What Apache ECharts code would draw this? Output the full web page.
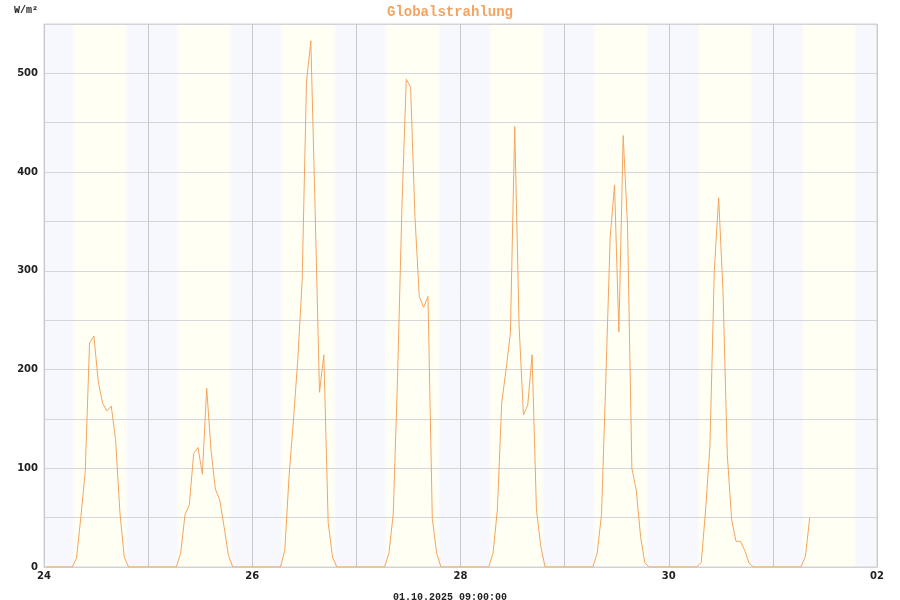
<!DOCTYPE html>
<html>
<head>
<meta charset="utf-8">
<script src="https://cdn.jsdelivr.net/npm/echarts@6/dist/echarts.min.js"></script>
<style>html,body{margin:0;padding:0;background:#fff}#c{width:900px;height:600px}</style>
</head>
<body>
<div id="c"></div>
<script>
// Hourly global radiation (W/m²), one array per day, hours 00..23
const day24 = [0,0,0,0,0,0,0,9,51,96,227,234,188,166,158,163,129,55,10,0,0,0,0,0];
const day25 = [0,0,0,0,0,0,0,14,53,63,115,121,94,181,118,79,68,41,12,0,0,0,0,0];
const day26 = [0,0,0,0,0,0,0,17,93,149,210,290,491,533,360,177,215,45,10,0,0,0,0,0];
const day27 = [0,0,0,0,0,0,0,14,54,193,365,494,486,355,274,263,274,49,14,0,0,0,0,0];
const day28 = [0,0,0,0,0,0,0,14,58,166,200,237,446,245,154,164,215,58,21,0,0,0,0,0];
const day29 = [0,0,0,0,0,0,0,14,53,190,334,387,238,437,345,100,78,31,4,0,0,0,0,0];
const day30 = [0,0,0,0,0,0,0,5,58,123,300,374,280,113,48,26,26,17,4,0,0,0,0,0];
const day01 = [0,0,0,0,0,0,0,11,50];

const dayLabels = ['24','25','26','27','28','29','30','01','02'];
const sunrise = [6.8,6.8,6.8,6.8,6.8,6.8,6.9,6.9];   // hour of day
const sunset  = [19.0,19.0,19.0,19.0,19.0,19.0,19.0,19.0];
const yTickLabels = [0,100,200,300,400,500];

const values = [].concat(day24, day25, day26, day27, day28, day29, day30, day01);
const seriesData = values.map((v, i) => [i + 0.5, v]);

const NIGHT = '#f7f8fe', DAY = '#fffff4';
const fade = 0.4;
const bandAreas = [[{ xAxis: 0, itemStyle: { color: NIGHT, opacity: 1 } }, { xAxis: dayLabels.length * 24 - 24 }]];
sunrise.forEach((sr, d) => {
  const a = d * 24 + sr - fade, b = d * 24 + sunset[d] + fade;
  const f = fade * 2 / (b - a);
  bandAreas.push([{
    xAxis: a,
    itemStyle: { opacity: 1, color: new echarts.graphic.LinearGradient(0, 0, 1, 0, [
      { offset: 0, color: NIGHT }, { offset: f, color: DAY },
      { offset: 1 - f, color: DAY }, { offset: 1, color: NIGHT }]) }
  }, { xAxis: b }]);
});

const chart = echarts.init(document.getElementById('c'), null, { renderer: 'canvas' });
chart.setOption({
  animation: false,
  backgroundColor: '#ffffff',
  title: [{
    text: 'Globalstrahlung', left: 'center', top: 0,
    textStyle: { fontFamily: 'Liberation Mono', fontWeight: 'bold', fontSize: 14, color: '#f4a460' }
  }, {
    text: '01.10.2025 09:00:00', left: 'center', top: 587,
    textStyle: { fontFamily: 'Liberation Mono', fontWeight: 'bold', fontSize: 10, color: '#222' }
  }, {
    text: 'W/m²', left: 9, top: 0,
    textStyle: { fontFamily: 'Liberation Mono', fontWeight: 'bold', fontSize: 10, color: '#222' }
  }],
  grid: {
    left: 44, right: 23, top: 24, bottom: 33, show: true, z: 4,
    backgroundColor: 'transparent', borderColor: '#d2d2d6', borderWidth: 1
  },
  xAxis: {
    type: 'value', min: 0, max: 192, interval: 24, z: 4,
    axisLine: { show: true, lineStyle: { color: '#d2d2d6' } },
    axisTick: { show: false },
    splitLine: { show: true, lineStyle: { color: '#c8c8cd', width: 1 } },
    axisLabel: {
      margin: 4, fontFamily: 'DejaVu Sans', fontWeight: 'bold', fontSize: 10, color: '#222',
      formatter: v => { const i = Math.round(v / 24); return i % 2 === 0 ? dayLabels[i] : ''; }
    }
  },
  yAxis: {
    type: 'value', min: 0, max: 550, interval: 50, z: 3,
    axisLine: { show: false },
    axisTick: { show: false },
    splitLine: { show: true, lineStyle: { color: '#d6d6da', width: 1 } },
    axisLabel: {
      margin: 6, fontFamily: 'DejaVu Sans', fontWeight: 'bold', fontSize: 10, color: '#222',
      formatter: v => yTickLabels.indexOf(v) >= 0 ? String(v) : ''
    }
  },
  series: [{
    type: 'line', data: [], z: 1, silent: true,
    markArea: { silent: true, data: bandAreas }
  }, {
    type: 'line', data: seriesData, showSymbol: false, z: 6,
    lineStyle: { color: '#f4a460', width: 1 }
  }]
});
</script>
</body>
</html>
